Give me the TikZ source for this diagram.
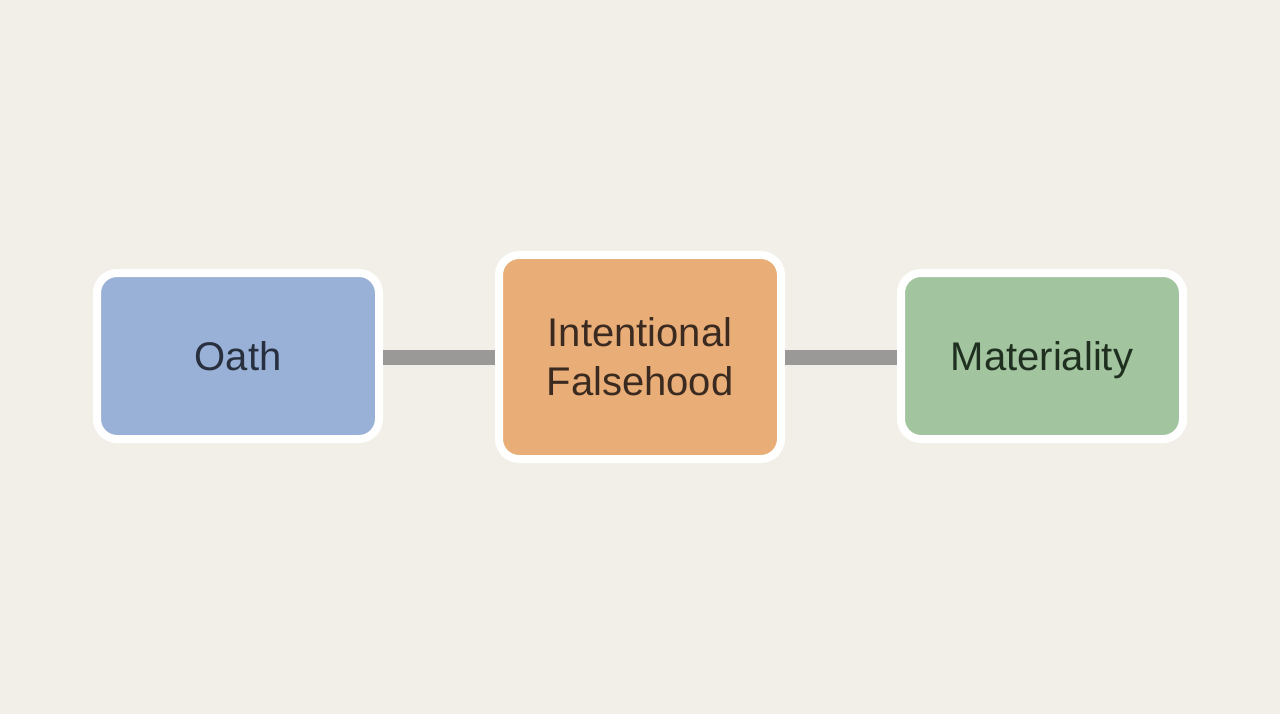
\documentclass[tikz,border=0pt]{standalone}
\usepackage{fontspec}
\setmainfont{Liberation Sans}
\definecolor{bgc}{HTML}{F2EFE8}
\definecolor{bluef}{HTML}{99B1D6}
\definecolor{orangef}{HTML}{E9AD78}
\definecolor{greenf}{HTML}{A2C49E}
\definecolor{bluet}{HTML}{283040}
\definecolor{oranget}{HTML}{3A2A20}
\definecolor{greent}{HTML}{1F3020}
\definecolor{linkc}{HTML}{9A9997}
\begin{document}
\begin{tikzpicture}[x=1pt,y=-1pt,
  card/.style={draw=white, line width=8pt, rounded corners=20pt, minimum width=282pt,
    inner sep=0pt, align=center, font=\fontsize{40}{49}\selectfont},
  oneline/.style={text height=28.6pt, text depth=0pt},
  link/.style={draw=linkc, line width=15pt}]
\fill[bgc] (0,0) rectangle (1280,714);
\useasboundingbox (0,0) rectangle (1280,714);
\node[card, oneline, fill=bluef, text=bluet, minimum height=166pt] (oath) at (238,356) {Oath};
\node[card, fill=orangef, text=oranget, minimum height=204pt] (mid) at (640,357) {Intentional\\Falsehood};
\node[card, oneline, fill=greenf, text=greent, minimum height=166pt] (mat) at (1042,356) {Materiality};
\draw[link] (oath.east |- 0,357) -- (mid.west |- 0,357);
\draw[link] (mid.east |- 0,357) -- (mat.west |- 0,357);
\end{tikzpicture}
\end{document}
